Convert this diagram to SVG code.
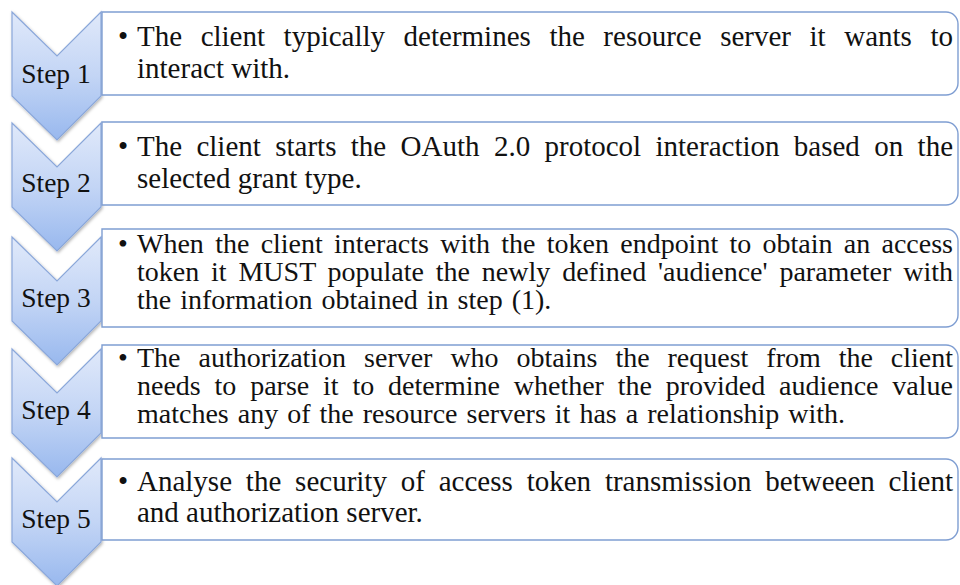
<svg xmlns="http://www.w3.org/2000/svg" width="960" height="585" viewBox="0 0 960 585">
  <style>
    .chev { fill: url(#chevGrad); stroke: #8aa7da; stroke-width: 1.2; filter: url(#shadow); }
    .box { fill: #ffffff; stroke: #7f9ed2; stroke-width: 1.4; }
    .step { font-family: "Liberation Serif", "Times New Roman", serif; font-size: 27.5px; fill: #111111; text-anchor: middle; }
    .body { font-family: "Liberation Serif", "Times New Roman", serif; font-size: 29px; fill: #111111; }
    .tight { font-size: 28px; }
  </style>
  <defs>
    <linearGradient id="chevGrad" x1="0" y1="0" x2="0" y2="1">
      <stop offset="0" stop-color="#e0e9fa"/>
      <stop offset="0.5" stop-color="#c3d5f5"/>
      <stop offset="1" stop-color="#98b8ee"/>
    </linearGradient>
    <filter id="shadow" x="-20%" y="-20%" width="140%" height="140%">
      <feDropShadow dx="1" dy="1.5" stdDeviation="1.5" flood-color="#000000" flood-opacity="0.3"/>
    </filter>
  </defs>
  <rect x="0" y="0" width="960" height="585" fill="#ffffff"/>
  <g id="connectors"/>

  <g id="step1">
    <path class="chev" d="M12,12 L57,56 L101,12 L101,96 L57,140 L12,96 Z"/>
    <path class="box" d="M102,12 H946 A12,12 0 0 1 958,24 V83 A12,12 0 0 1 946,95 H102 Z"/>
    <text class="step" x="56" y="83">Step 1</text>
    <text class="body" x="118" y="46">•</text>
    <text class="body" x="137" y="46" word-spacing="11.3" textLength="816" lengthAdjust="spacing">The client typically determines the resource server it wants to</text>
    <text class="body" x="137" y="78">interact with.</text>
  </g>

  <g id="step2">
    <path class="chev" d="M12,123 L57,167 L101,123 L101,207 L57,251 L12,207 Z"/>
    <path class="box" d="M102,122 H946 A12,12 0 0 1 958,134 V193 A12,12 0 0 1 946,205 H102 Z"/>
    <text class="step" x="56" y="192">Step 2</text>
    <text class="body" x="118" y="156">•</text>
    <text class="body" x="137" y="156" word-spacing="7.1" textLength="816" lengthAdjust="spacing">The client starts the OAuth 2.0 protocol interaction based on the</text>
    <text class="body" x="137" y="188">selected grant type.</text>
  </g>

  <g id="step3">
    <path class="chev" d="M12,237 L57,281 L101,237 L101,321 L57,365 L12,321 Z"/>
    <path class="box" d="M102,229 H946 A12,12 0 0 1 958,241 V315 A12,12 0 0 1 946,327 H102 Z"/>
    <text class="step" x="56" y="307">Step 3</text>
    <text class="body tight" x="118" y="253">•</text>
    <text class="body tight" x="137" y="253" word-spacing="4.3" textLength="816" lengthAdjust="spacing">When the client interacts with the token endpoint to obtain an access</text>
    <text class="body tight" x="137" y="281" word-spacing="4.8" textLength="816" lengthAdjust="spacing">token it MUST populate the newly defined 'audience' parameter with</text>
    <text class="body tight" x="137" y="309" word-spacing="2">the information obtained in step (1).</text>
  </g>

  <g id="step4">
    <path class="chev" d="M12,349 L57,393 L101,349 L101,433 L57,477 L12,433 Z"/>
    <path class="box" d="M102,345 H946 A12,12 0 0 1 958,357 V426 A12,12 0 0 1 946,438 H102 Z"/>
    <text class="step" x="56" y="419">Step 4</text>
    <text class="body tight" x="118" y="367">•</text>
    <text class="body tight" x="137" y="367" word-spacing="11" textLength="816" lengthAdjust="spacing">The authorization server who obtains the request from the client</text>
    <text class="body tight" x="137" y="395" word-spacing="6.8" textLength="816" lengthAdjust="spacing">needs to parse it to determine whether the provided audience value</text>
    <text class="body tight" x="137" y="423" word-spacing="2">matches any of the resource servers it has a relationship with.</text>
  </g>

  <g id="step5">
    <path class="chev" d="M12,458 L57,502 L101,458 L101,542 L57,586 L12,542 Z"/>
    <path class="box" d="M102,459 H946 A12,12 0 0 1 958,471 V528 A12,12 0 0 1 946,540 H102 Z"/>
    <text class="step" x="56" y="528">Step 5</text>
    <text class="body" x="118" y="491">•</text>
    <text class="body" x="137" y="491" word-spacing="6.6" textLength="816" lengthAdjust="spacing">Analyse the security of access token transmission betweeen client</text>
    <text class="body" x="137" y="522">and authorization server.</text>
  </g>
</svg>
